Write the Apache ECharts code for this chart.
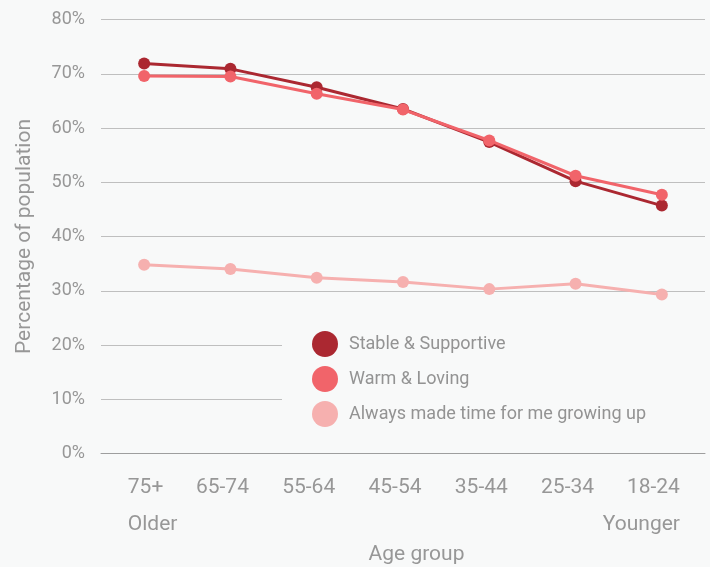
<!DOCTYPE html>
<html>
<head>
<meta charset="utf-8">
<script src="https://cdn.jsdelivr.net/npm/echarts@6/dist/echarts.min.js"></script>
<style>
html,body{margin:0;padding:0;background:#f8f9f9;}
#chart{width:710px;height:567px;}
</style>
</head>
<body>
<div id="chart"></div>
<script>
// Data
var categories = ['75+', '65-74', '55-64', '45-54', '35-44', '25-34', '18-24'];
var endNotes = ['Older', 'Younger'];
var seriesNames = ['Stable & Supportive', 'Warm & Loving', 'Always made time for me growing up'];
var stableSupportive = [71.9, 70.9, 67.5, 63.5, 57.4, 50.2, 45.7];
var warmLoving = [69.6, 69.5, 66.3, 63.4, 57.7, 51.2, 47.7];
var alwaysMadeTime = [34.8, 34.0, 32.4, 31.6, 30.3, 31.3, 29.3];
var yTicks = [0, 10, 20, 30, 40, 50, 60, 70, 80];

var colors = ['#ab2831', '#f1646a', '#f6b0af'];
var textGrey = '#979797';
var font = 'Roboto';

var last = categories.length - 1;
var xData = categories.map(function (c, i) {
  if (i === 0) return { value: c, textStyle: { padding: [0, 0, 0, 17] } };
  if (i === last) return { value: c, textStyle: { padding: [0, 41, 0, 0] } };
  return c;
});

var chart = echarts.init(document.getElementById('chart'));
chart.setOption({
  animation: false,
  backgroundColor: '#f8f9f9',
  textStyle: { fontFamily: font },
  grid: { left: 101, right: 5, top: 19.5, bottom: 113.5, containLabel: false, outerBoundsMode: 'none' },
  legend: {
    orient: 'vertical',
    left: 282,
    top: 311,
    padding: [20, 60, 15, 30],
    backgroundColor: '#f8f9f9',
    itemWidth: 26,
    itemHeight: 26,
    itemGap: 9,
    icon: 'circle',
    data: seriesNames,
    textStyle: { fontFamily: font, fontSize: 18, color: '#939393', padding: [0, 0, 0, 6] }
  },
  xAxis: {
    type: 'category',
    data: xData,
    boundaryGap: true,
    name: 'Age group',
    nameLocation: 'middle',
    nameGap: 91,
    nameTextStyle: { fontFamily: font, fontSize: 21, color: textGrey, padding: [0, 0, 0, 27] },
    axisLine: { show: true, lineStyle: { color: '#9e9e9e', width: 1 } },
    axisTick: { show: false },
    splitLine: { show: false },
    axisLabel: {
      interval: 0,
      margin: 16,
      padding: [0, 16, 0, 0],
      fontFamily: font,
      fontSize: 21,
      color: textGrey,
      formatter: function (v, i) {
        if (i === 0) return '{l|' + v + '}\n{l|' + endNotes[0] + '}';
        if (i === last) return '{r|' + v + '}\n{r|' + endNotes[1] + '}';
        return '{c|' + v + '}';
      },
      rich: {
        l: { align: 'left', fontSize: 21, lineHeight: 37, color: textGrey, fontFamily: font },
        r: { align: 'right', fontSize: 21, lineHeight: 37, color: textGrey, fontFamily: font },
        c: { align: 'center', fontSize: 21, lineHeight: 37, color: textGrey, fontFamily: font }
      }
    }
  },
  yAxis: {
    type: 'value',
    min: yTicks[0],
    max: yTicks[yTicks.length - 1],
    interval: 10,
    name: 'Percentage of population',
    nameLocation: 'middle',
    nameGap: 66,
    nameTextStyle: { fontFamily: font, fontSize: 21, color: textGrey },
    axisLine: { show: false },
    axisTick: { show: false },
    splitLine: { show: true, lineStyle: { color: '#bfbfbf', width: 1 } },
    axisLabel: {
      margin: 16,
      fontFamily: font,
      fontSize: 18,
      color: textGrey,
      formatter: '{value}%'
    }
  },
  series: [
    { name: seriesNames[0], data: stableSupportive },
    { name: seriesNames[1], data: warmLoving },
    { name: seriesNames[2], data: alwaysMadeTime }
  ].map(function (s, i) {
    return {
      name: s.name,
      type: 'line',
      data: s.data,
      symbol: 'circle',
      symbolSize: 12,
      showSymbol: true,
      lineStyle: { width: 3, color: colors[i] },
      itemStyle: { color: colors[i] },
      z: 2 + (i === 1 ? 1 : 0)
    };
  })
});
</script>
</body>
</html>
